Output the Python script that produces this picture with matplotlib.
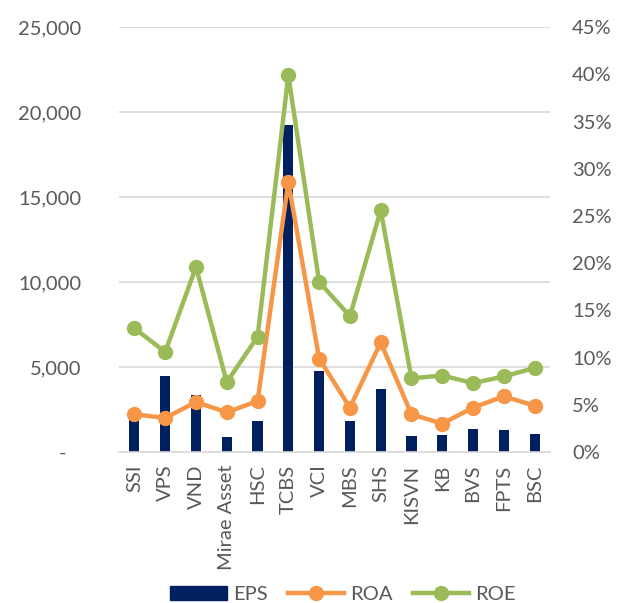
import matplotlib
matplotlib.use("Agg")
import matplotlib.pyplot as plt
from matplotlib.ticker import FuncFormatter, MultipleLocator
from matplotlib.lines import Line2D
from matplotlib.patches import Patch

categories = ["SSI", "VPS", "VND", "Mirae Asset", "HSC", "TCBS", "VCI", "MBS",
              "SHS", "KISVN", "KB", "BVS", "FPTS", "BSC"]
eps = [2000, 4450, 3350, 880, 1800, 19250, 4750, 1800, 3700, 920, 1000, 1380, 1280, 1050]
roa = [4.0, 3.6, 5.3, 4.2, 5.4, 28.6, 9.9, 4.7, 11.6, 4.0, 3.0, 4.7, 5.9, 4.9]
roe = [13.1, 10.6, 19.6, 7.4, 12.2, 39.9, 18.0, 14.4, 25.6, 7.8, 8.1, 7.3, 8.0, 8.9]

NAVY = "#002060"
ORANGE = "#F79646"
GREEN = "#9BBB59"
TXT = "#595959"
GRID = "#D9D9D9"

plt.rcParams['font.family'] = ['Lato', 'DejaVu Sans']

fig = plt.figure(figsize=(6.18, 6.03), dpi=100)
ax = fig.add_axes([0.1926, 0.2504, 0.6974, 0.7046])
ax2 = ax.twinx()

x = list(range(len(categories)))
ax.bar(x, eps, width=0.33, color=NAVY, zorder=2)
ax.set_ylim(0, 25000)
ax.set_xlim(-0.5, len(categories) - 0.5)
ax.yaxis.set_major_locator(MultipleLocator(5000))
ax.yaxis.set_major_formatter(FuncFormatter(lambda v, p: "-   " if v == 0 else f"{int(v):,}"))
ax.grid(axis='y', color=GRID, linewidth=1.2, zorder=0)
ax.set_axisbelow(True)

ax2.plot(x, roa, color=ORANGE, linewidth=3.2, marker='o', markersize=10, zorder=3)
ax2.plot(x, roe, color=GREEN, linewidth=3.2, marker='o', markersize=10, zorder=3)
ax2.set_ylim(0, 45)
ax2.yaxis.set_major_locator(MultipleLocator(5))
ax2.yaxis.set_major_formatter(FuncFormatter(lambda v, p: f"{int(round(v))}%"))

ax.set_xticks(x)
ax.set_xticklabels(categories, rotation=90, fontsize=14.5, color=TXT)
ax.tick_params(axis='y', labelsize=14.5, labelcolor=TXT, length=0, pad=27)
ax2.tick_params(axis='y', labelsize=14.5, labelcolor=TXT, length=0, pad=16)
ax.tick_params(axis='x', length=0, pad=9)

for a in (ax, ax2):
    for s in a.spines.values():
        s.set_visible(False)
ax.spines['bottom'].set_visible(True)
ax.spines['bottom'].set_color(GRID)
ax.spines['bottom'].set_linewidth(1.2)

handles = [Patch(color=NAVY),
           Line2D([0], [0], color=ORANGE, lw=3.2, marker='o', markersize=10),
           Line2D([0], [0], color=GREEN, lw=3.2, marker='o', markersize=10)]
fig.legend(handles, ["EPS", "ROA", "ROE"], loc='center', bbox_to_anchor=(0.555, 0.014),
           ncol=3, frameon=False, fontsize=14.5, labelcolor=TXT,
           handlelength=2.8, handletextpad=0.3, columnspacing=1.0)

fig.savefig("out.png", dpi=100)
